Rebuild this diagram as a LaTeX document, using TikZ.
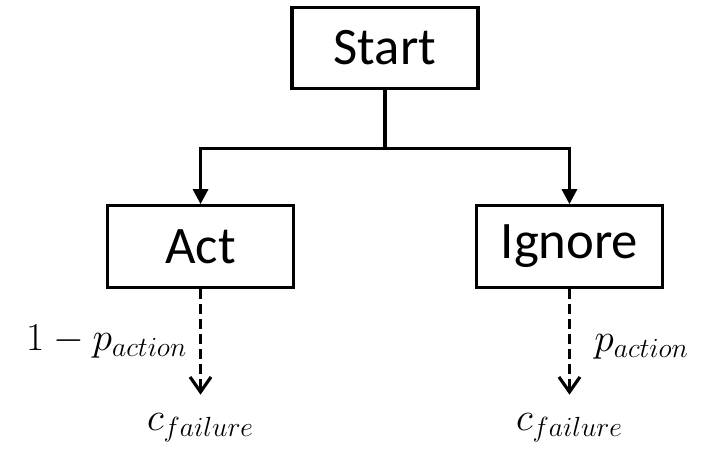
\RequirePackage{fix-cm}
\documentclass[tikz,border=0pt]{standalone}
\usepackage{fontspec}
\setmainfont{Carlito}
\usetikzlibrary{trees,calc,arrows.meta}

\begin{document}
\begin{tikzpicture}[x=0.02cm,y=0.02cm,line width=1.8pt,
        level 1/.style={sibling distance=7.38cm,level distance=3.97cm,
          edge from parent path={(\tikzparentnode.south) -- ++(0,-58) -| (\tikzchildnode.north)}},
        level 2/.style={level distance=3.62cm,
          edge from parent/.style={draw,dash pattern=on 0.2cm off 0.1cm,shorten >=0.34cm,
            -{Straight Barb[length=0.3cm,width=0.42cm,line width=1.8pt]}}},
        box/.style={draw,minimum width=3.72cm,minimum height=1.63cm,font=\fontsize{30}{34}\selectfont},
        cost/.style={inner sep=0pt,font=\fontsize{22.5}{26}\selectfont},
        prob/.style={font=\fontsize{22.5}{26}\selectfont},
        edge from parent/.style={draw,-{Triangle[length=0.3cm,width=0.3cm]}}]
        \useasboundingbox (0,0) rectangle (707,-451);
        \node[box] (start) at (385,-48) {Start}
        child {
          node[box] (act) {Act}
          child {
            node[cost] (fail1) {$c_{failure}$}
            edge from parent node[prob,left,xshift=-0.12cm,yshift=0.1cm] {$1-p_{action}$}
          }
        }
        child {
          node[box] (ignore) {Ignore}
          child {
            node[cost] (fail2) {$c_{failure}$}
            edge from parent node[prob,right,xshift=0.35cm] {$p_{action}$}
          }
        };
\end{tikzpicture}
\end{document}
